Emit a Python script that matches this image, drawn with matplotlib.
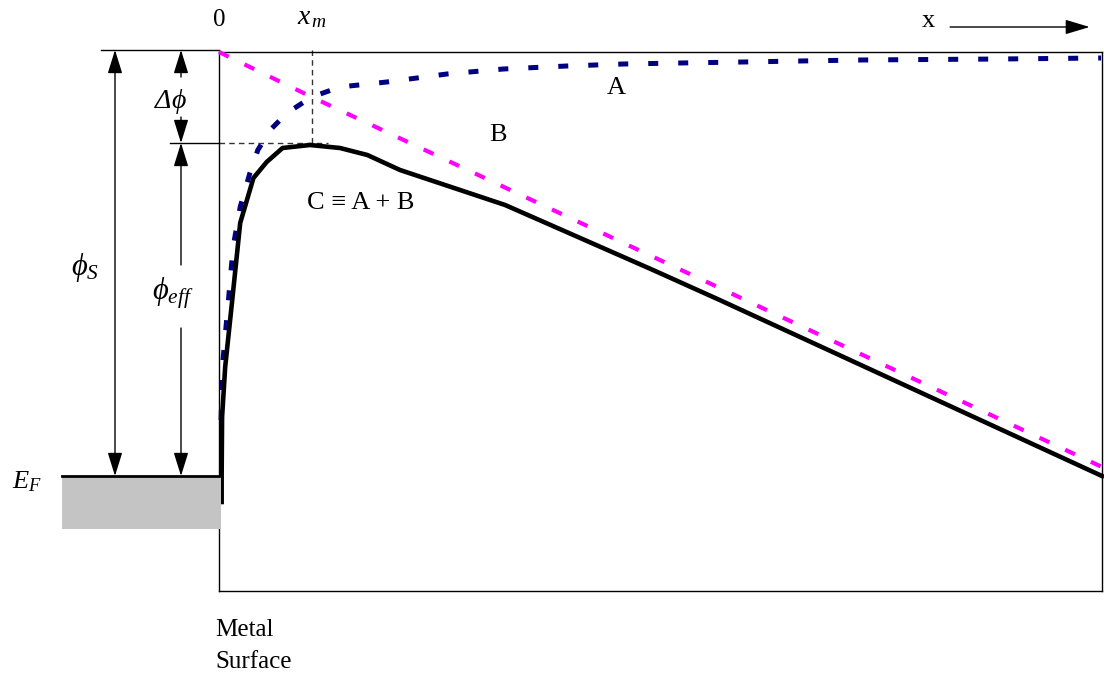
import matplotlib
matplotlib.use("Agg")
import matplotlib.pyplot as plt
from matplotlib.patches import Rectangle

plt.rcParams['mathtext.fontset'] = 'custom'
plt.rcParams['mathtext.rm'] = 'Liberation Serif'
plt.rcParams['mathtext.it'] = 'Liberation Serif:italic'
plt.rcParams['font.family'] = ['Liberation Serif', 'DejaVu Serif']
plt.rcParams['hatch.color'] = '#9a9a9a'
plt.rcParams['hatch.linewidth'] = 0.4

# ---- data (x: distance from metal surface, y: energy above E_F) ----
a_x = [0.023, 0.045, 0.10, 0.16, 0.24, 0.35, 0.44, 0.58, 0.77, 1.05, 1.37, 1.90,
       2.58, 3.22, 3.94, 4.58, 5.22, 5.93, 6.58, 7.26, 8.84, 9.99]
a_y = [0.56, 1.16, 1.69, 2.29, 2.69, 3.03, 3.26, 3.46, 3.63, 3.79, 3.89, 3.94,
       4.02, 4.07, 4.10, 4.12, 4.13, 4.14, 4.15, 4.16, 4.17, 4.18]
b_x = [0.0, 1.05, 10.0]
b_y = [4.24, 3.79, 0.09]
c_x = [0.03, 0.03, 0.035, 0.07, 0.15, 0.24, 0.39, 0.54, 0.72, 1.03, 1.37, 1.68,
       2.05, 3.24, 4.915, 5.67, 10.0]
c_y = [-0.26, 0.0, 0.59, 1.09, 1.76, 2.53, 2.98, 3.14, 3.28, 3.31, 3.28, 3.21,
       3.06, 2.71, 2.06, 1.76, 0.0]
phi_s = 4.26       # vacuum level
phi_eff_top = 3.33 # barrier maximum
x_m = 1.053        # position of maximum
e_f = 0.0

fig = plt.figure(figsize=(11.04, 6.78), dpi=100)
ax = fig.add_axes([219/1104, 87/678, 883/1104, 539/678])
ax.set_xlim(0, 10)
ax.set_ylim(-1.15, 4.24)
ax.set_xticks([])
ax.set_yticks([])
for s in ax.spines.values():
    s.set_linewidth(1.0)
    s.set_color('black')

# curves
ax.plot(a_x, a_y, color='#000080', lw=3.6, dashes=(2, 4), zorder=3, clip_on=False)
ax.plot(b_x, b_y, color='#ff00ff', lw=3.0, dashes=(2.6, 4.2), zorder=3, clip_on=False)
ax.plot(c_x, c_y, color='black', lw=3.3, zorder=4, clip_on=False, solid_joinstyle='round')

# metal block
blk = Rectangle((-1.778, -0.53), 1.8, 0.53, facecolor='#c4c4c4', edgecolor='none',
                hatch='//////', zorder=5, clip_on=False)
ax.add_patch(blk)
ax.plot([-1.778, 0.0], [e_f, e_f], color='black', lw=2.0, zorder=6, clip_on=False)

# guide lines
ax.plot([-1.336, 0.0], [phi_s, phi_s], color='black', lw=1.0, clip_on=False)
ax.plot([-0.555, 0.0], [phi_eff_top, phi_eff_top], color='black', lw=1.0, clip_on=False)
ax.plot([0.0, 1.23], [phi_eff_top, phi_eff_top], color='#333333', lw=1.0,
        dashes=(4, 3), clip_on=False)
ax.plot([x_m, x_m], [phi_eff_top, 4.27], color='#333333', lw=1.0,
        dashes=(4, 3), clip_on=False)

def arrow(x0, y0, x1, y1, style='-|>'):
    ax.annotate('', xy=(x1, y1), xytext=(x0, y0), xycoords='data',
                annotation_clip=False,
                arrowprops=dict(arrowstyle=style + ',head_length=1.45,head_width=0.45',
                                lw=1.0, color='black', shrinkA=0, shrinkB=0,
                                mutation_scale=10))

xs = (115 - 219) / 88.3
xd = (181 - 219) / 88.3
arrow(xs, e_f, xs, phi_s, style='<|-|>')
arrow(xd, 3.99, xd, phi_s)
arrow(xd, 3.59, xd, phi_eff_top)
arrow(xd, 2.11, xd, phi_eff_top)
arrow(xd, 1.48, xd, e_f)

# labels
ax.text(-1.52, 2.09, r'$\phi_{S}$', fontsize=22, ha='center', va='center')
ax.text(-0.63, 3.75, 'Δ', fontsize=20, style='italic', ha='center', va='center')
ax.text(-0.45, 3.75, r'$\phi$', fontsize=20, ha='center', va='center')
ax.text(-0.52, 1.83, r'$\phi_{eff}$', fontsize=22, ha='center', va='center')
ax.text(-2.18, -0.06, r'$E_{F}$', fontsize=19, ha='center', va='center')
ax.text(0.0, 4.56, '0', fontsize=18, ha='center', va='center')
ax.text(1.05, 4.58, r'$x_{\,m}$', fontsize=20, ha='center', va='center')
ax.text(8.03, 4.55, 'x', fontsize=19, ha='center', va='center')
ax.annotate('', xy=(9.86, 4.49), xytext=(8.28, 4.49), annotation_clip=False,
            arrowprops=dict(arrowstyle='-|>,head_length=1.5,head_width=0.45',
                            lw=1.0, color='black', shrinkA=0, shrinkB=0,
                            mutation_scale=10))
ax.text(4.5, 3.88, 'A', fontsize=19, ha='center', va='center')
ax.text(3.16, 3.41, 'B', fontsize=19, ha='center', va='center')
ax.text(1.60, 2.73, 'C ≡ A + B', fontsize=19, ha='center', va='center')
ax.text(-0.045, -1.54, 'Metal', fontsize=18, ha='left', va='center')
ax.text(-0.045, -1.86, 'Surface', fontsize=18, ha='left', va='center')

fig.savefig('out.png', dpi=100)
